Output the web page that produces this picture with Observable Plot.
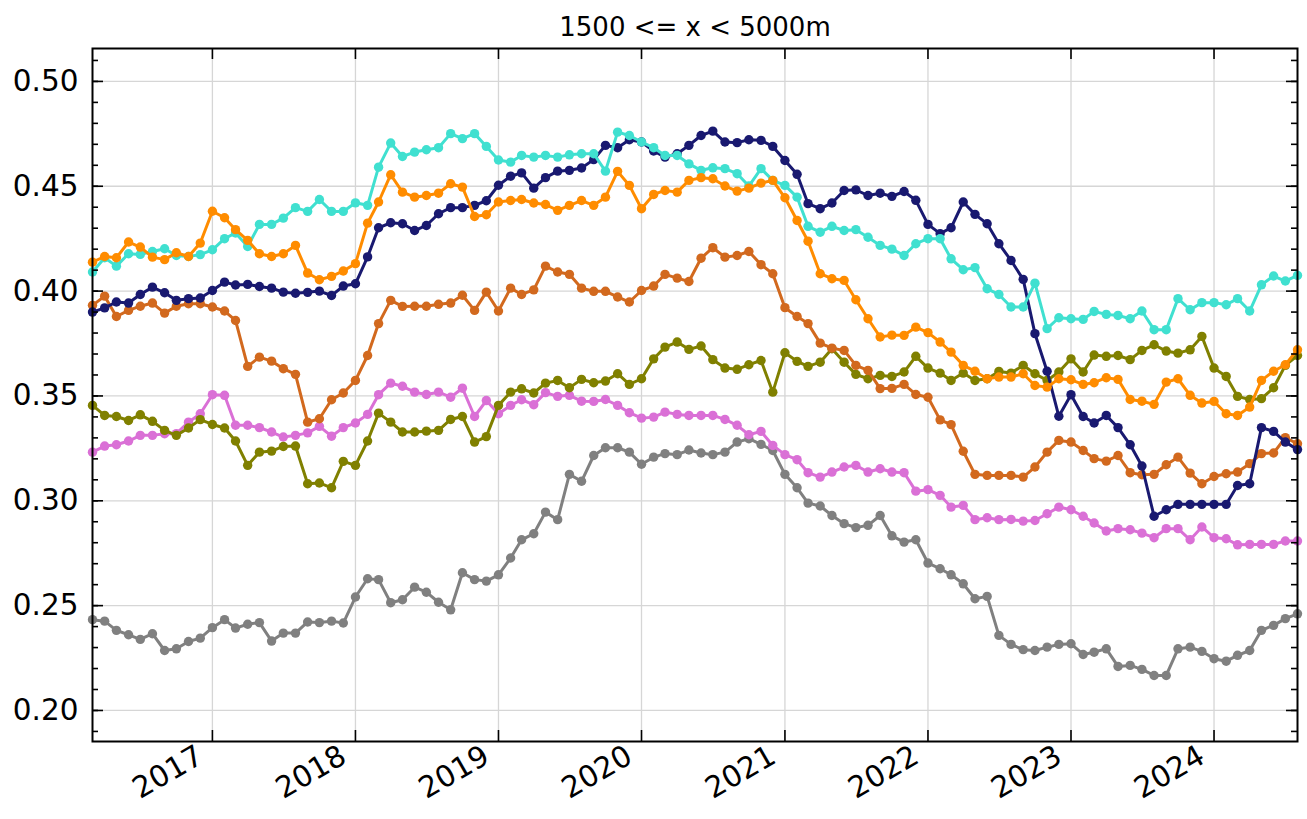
<!DOCTYPE html>
<html><head><meta charset="utf-8">
<script src="https://cdn.jsdelivr.net/npm/d3@7"></script>
<script src="https://cdn.jsdelivr.net/npm/@observablehq/plot@0.6"></script>
<style>
body{margin:0;background:#fff;font-family:"DejaVu Sans",sans-serif;}
#title{height:40px;width:1307px;position:relative;}
#title span{position:absolute;left:695px;top:12px;transform:translateX(-50%);font-size:26px;line-height:normal;white-space:nowrap;color:#000;}
</style></head><body>
<div id="title"><span>1500 &lt;= x &lt; 5000m</span></div>
<div id="chart"></div>
<script>
// monthly series, 2016-03 .. 2024-08
const navy = [0.390,0.392,0.3948,0.3943,0.3984,0.4019,0.3992,0.3956,0.3964,0.3967,
0.4003,0.4043,0.4029,0.4032,0.4022,0.4014,0.3995,0.3990,0.3994,0.4000,
0.3979,0.4024,0.4035,0.4163,0.4302,0.4326,0.4321,0.4289,0.4313,0.4369,
0.4398,0.4398,0.4409,0.4431,0.4505,0.4548,0.4564,0.4491,0.4541,0.4572,
0.4576,0.4587,0.4627,0.4695,0.4684,0.4722,0.4711,0.4668,0.4639,0.4655,
0.4695,0.4742,0.4763,0.4711,0.4708,0.4722,0.4719,0.4690,0.4623,0.4557,
0.4417,0.4393,0.4420,0.4480,0.4483,0.4456,0.4467,0.4452,0.4475,0.4433,
0.4318,0.4274,0.4302,0.4425,0.4366,0.4321,0.4226,0.4146,0.4056,0.3797,
0.3618,0.3403,0.3506,0.3402,0.3371,0.3407,0.3349,0.3267,0.3166,0.2926,
0.2957,0.2983,0.2983,0.2983,0.2983,0.2983,0.3073,0.3081,0.3349,0.3331,
0.3280,0.3244];
const turquoise = [0.4091,0.4159,0.4119,0.4178,0.4175,0.4189,0.4202,0.4170,0.4165,0.4174,
0.4197,0.4250,0.4277,0.4213,0.4318,0.4318,0.4348,0.4398,0.4380,0.4437,
0.4380,0.4380,0.4421,0.4409,0.4591,0.4706,0.4642,0.4663,0.4674,0.4684,
0.4751,0.4727,0.4751,0.4690,0.4625,0.4615,0.4647,0.4639,0.4647,0.4639,
0.4650,0.4655,0.4655,0.4572,0.4758,0.4742,0.4711,0.4684,0.4647,0.4647,
0.4607,0.4576,0.4588,0.4584,0.4560,0.4501,0.4584,0.4528,0.4504,0.4448,
0.4309,0.4281,0.4309,0.4289,0.4293,0.4257,0.4218,0.4200,0.4170,0.4226,
0.4250,0.4250,0.4154,0.4102,0.4112,0.4011,0.3984,0.3924,0.3924,0.4038,
0.3821,0.3873,0.3868,0.3865,0.3903,0.3889,0.3884,0.3868,0.3905,0.3816,
0.3816,0.3964,0.3911,0.3945,0.3945,0.3935,0.3964,0.3905,0.4030,0.4072,
0.4048,0.4075];
const orange = [0.4138,0.4165,0.4159,0.4234,0.4210,0.4162,0.4150,0.4183,0.4165,0.4229,
0.4381,0.4350,0.4293,0.4242,0.4178,0.4165,0.4178,0.4218,0.4086,0.4054,
0.4070,0.4096,0.4131,0.4324,0.4425,0.4555,0.4472,0.4448,0.4456,0.4467,
0.4512,0.4496,0.4356,0.4364,0.4425,0.4432,0.4437,0.4420,0.4413,0.4385,
0.4409,0.4432,0.4409,0.4448,0.4571,0.4504,0.4393,0.4461,0.4480,0.4472,
0.4528,0.4541,0.4536,0.4501,0.4477,0.4491,0.4515,0.4528,0.4445,0.4337,
0.4238,0.4083,0.4059,0.4051,0.3959,0.3868,0.3781,0.3790,0.3789,0.3828,
0.3802,0.3757,0.3709,0.3646,0.3618,0.3582,0.3590,0.3590,0.3606,0.3550,
0.3542,0.3582,0.3577,0.3555,0.3563,0.3587,0.3579,0.3483,0.3475,0.3460,
0.3566,0.3582,0.3503,0.3466,0.3474,0.3415,0.3407,0.3447,0.3574,0.3618,
0.3649,0.3720];
const chocolate = [0.3932,0.3976,0.3879,0.3908,0.3928,0.3943,0.3895,0.3928,0.3940,0.3940,
0.3924,0.3905,0.3860,0.3641,0.3685,0.3666,0.3630,0.3603,0.3375,0.3391,
0.3482,0.3514,0.3574,0.3693,0.3845,0.3956,0.3927,0.3928,0.3928,0.3937,
0.3943,0.3980,0.3908,0.3995,0.3905,0.4014,0.3984,0.4006,0.4119,0.4091,
0.4080,0.4014,0.3999,0.3999,0.3972,0.3948,0.4003,0.4024,0.4080,0.4062,
0.4046,0.4157,0.4207,0.4162,0.4170,0.4189,0.4126,0.4083,0.3921,0.3879,
0.3845,0.3752,0.3728,0.3717,0.3646,0.3622,0.3535,0.3536,0.3555,0.3507,
0.3494,0.3386,0.3363,0.3236,0.3126,0.3121,0.3121,0.3121,0.3113,0.3161,
0.3232,0.3288,0.3280,0.3240,0.3201,0.3189,0.3216,0.3134,0.3124,0.3126,
0.3172,0.3208,0.3132,0.3081,0.3116,0.3129,0.3137,0.3177,0.3225,0.3228,
0.3301,0.3272];
const olive = [0.3455,0.3407,0.3402,0.3383,0.3410,0.3379,0.3336,0.3312,0.3347,0.3387,
0.3364,0.3347,0.3285,0.3169,0.3232,0.3237,0.3259,0.3261,0.3081,0.3085,
0.3062,0.3188,0.3169,0.3285,0.3418,0.3375,0.3328,0.3328,0.3332,0.3336,
0.3388,0.3402,0.3280,0.3306,0.3455,0.3518,0.3534,0.3514,0.3561,0.3574,
0.3539,0.3579,0.3563,0.3571,0.3606,0.3555,0.3582,0.3677,0.3733,0.3757,
0.3722,0.3738,0.3673,0.3633,0.3627,0.3649,0.3669,0.3518,0.3706,0.3665,
0.3641,0.3661,0.3725,0.3661,0.3603,0.3582,0.3598,0.3593,0.3614,0.3689,
0.3633,0.3609,0.3574,0.3609,0.3574,0.3582,0.3617,0.3609,0.3646,0.3606,
0.3574,0.3614,0.3677,0.3614,0.3695,0.3689,0.3693,0.3673,0.3717,0.3744,
0.3714,0.3704,0.3720,0.3784,0.3633,0.3593,0.3498,0.3483,0.3487,0.3539,
0.3646,0.3693];
const orchid = [0.3232,0.3261,0.3267,0.3285,0.3312,0.3312,0.3320,0.3320,0.3375,0.3415,
0.3506,0.3503,0.3360,0.3360,0.3349,0.3328,0.3304,0.3312,0.3324,0.3355,
0.3308,0.3349,0.3371,0.3412,0.3506,0.3561,0.3546,0.3518,0.3507,0.3518,
0.3494,0.3537,0.3402,0.3478,0.3415,0.3455,0.3482,0.3458,0.3516,0.3498,
0.3503,0.3475,0.3474,0.3483,0.3455,0.3420,0.3394,0.3399,0.3423,0.3412,
0.3407,0.3407,0.3407,0.3388,0.3360,0.3315,0.3331,0.3264,0.3220,0.3196,
0.3134,0.3113,0.3137,0.3161,0.3169,0.3137,0.3153,0.3137,0.3134,0.3046,
0.3053,0.3026,0.2970,0.2978,0.2910,0.2919,0.2910,0.2911,0.2903,0.2906,
0.2938,0.2970,0.2957,0.2926,0.2894,0.2856,0.2867,0.2862,0.2846,0.2824,
0.2867,0.2867,0.2814,0.2875,0.2824,0.2819,0.2790,0.2792,0.2792,0.2792,
0.2808,0.2808];
const gray = [0.2433,0.2426,0.2382,0.2361,0.2339,0.2366,0.2286,0.2294,0.2329,0.2345,
0.2395,0.2433,0.2393,0.2411,0.2419,0.2331,0.2369,0.2369,0.2422,0.2419,
0.2426,0.2417,0.2541,0.2628,0.2624,0.2514,0.2528,0.2588,0.2564,0.2516,
0.2480,0.2657,0.2624,0.2617,0.2647,0.2727,0.2814,0.2843,0.2946,0.2910,
0.3126,0.3093,0.3216,0.3253,0.3253,0.3232,0.3174,0.3208,0.3225,0.3220,
0.3242,0.3228,0.3220,0.3232,0.3280,0.3296,0.3269,0.3240,0.3126,0.3062,
0.2989,0.2975,0.2930,0.2891,0.2872,0.2883,0.2930,0.2833,0.2803,0.2814,
0.2703,0.2676,0.2647,0.2604,0.2533,0.2544,0.2358,0.2315,0.2290,0.2286,
0.2302,0.2315,0.2318,0.2267,0.2278,0.2294,0.2210,0.2215,0.2196,0.2167,
0.2167,0.2294,0.2302,0.2282,0.2247,0.2235,0.2263,0.2286,0.2382,0.2406,
0.2438,0.2461];

const seriesNames = ["gray","orchid","olive","chocolate","navy","turquoise","orange"];
const seriesValues = {navy, turquoise, orange, chocolate, olive, orchid, gray};
const seriesColors = {navy:"#191970", turquoise:"#40E0D0", orange:"#FF8C00", chocolate:"#D2691E", olive:"#808000", orchid:"#DA70D6", gray:"#808080"};
const yTickValues = [0.20,0.25,0.30,0.35,0.40,0.45,0.50];
const xTickYears = [2017,2018,2019,2020,2021,2022,2023,2024];

const months = d3.utcMonth.range(new Date(Date.UTC(2016,2,1)), new Date(Date.UTC(2024,8,1)));
const W = 1307, H = 779, mL = 92, mR = 10, mT = 8, mB = 78;
const pw = W - mL - mR, ph = H - mT - mB;
const xTicks = xTickYears.map(y => new Date(Date.UTC(y,0,1)));
const yMinor = d3.range(19, 52).map(d => d/100);

const marks = [
  Plot.gridX(xTicks, {stroke:"#d6d6d6", strokeOpacity:1, strokeWidth:1.3}),
  Plot.gridY(yTickValues, {stroke:"#d6d6d6", strokeOpacity:1, strokeWidth:1.3})
];
for (const name of seriesNames) {
  const data = seriesValues[name].map((v,i) => ({date: months[i], value: v}));
  marks.push(Plot.line(data, {x:"date", y:"value", stroke: seriesColors[name], strokeWidth:3}));
  marks.push(Plot.dot(data, {x:"date", y:"value", fill: seriesColors[name], r:4.7}));
}
const tk = {stroke:"black", strokeWidth:1.6};
marks.push(
  Plot.tickY(yTickValues, {y: d=>d, insetRight: pw-11, ...tk}),
  Plot.tickY(yTickValues, {y: d=>d, insetLeft: pw-11, ...tk}),
  Plot.tickY(yMinor, {y: d=>d, insetRight: pw-6, ...tk}),
  Plot.tickY(yMinor, {y: d=>d, insetLeft: pw-6, ...tk}),
  Plot.tickX(xTicks, {x: d=>d, insetTop: ph-11, ...tk}),
  Plot.tickX(xTicks, {x: d=>d, insetBottom: ph-11, ...tk}),
  Plot.frame({stroke:"black", strokeWidth:2}),
  Plot.axisY(yTickValues, {tickSize:0, tickPadding:14, tickFormat: d3.format(".2f"), fontSize:29.5, label:null}),
  Plot.axisX(xTicks, {tickSize:0, tickPadding:12, tickRotate:-30, textAnchor:"end", dx:-12, tickFormat: d3.utcFormat("%Y"), fontSize:29.5, label:null})
);

const chart = Plot.plot({
  width: W, height: H,
  marginLeft: mL, marginRight: mR, marginTop: mT, marginBottom: mB,
  style: {fontFamily: "DejaVu Sans", background: "#fff", color: "#000"},
  x: {type:"utc", domain: [new Date(Date.UTC(2016,2,1)), new Date(Date.UTC(2024,7,1))]},
  y: {domain: [0.1852, 0.5157]},
  marks
});
document.getElementById("chart").appendChild(chart);
</script>
</body></html>
